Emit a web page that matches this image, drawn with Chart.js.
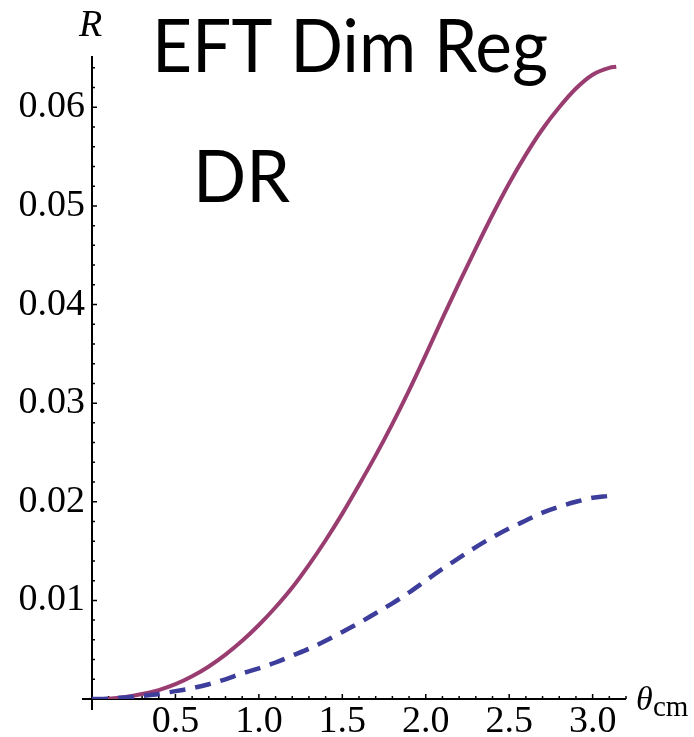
<!DOCTYPE html>
<html>
<head>
<meta charset="utf-8">
<script src="https://cdn.jsdelivr.net/npm/chart.js@4.4.1/dist/chart.umd.min.js"></script>
<style>
  body { margin: 0; background: #fff; }
  #wrap { width: 694px; height: 737px; }
</style>
</head>
<body>
<div id="wrap"><canvas id="myChart" width="694" height="737"></canvas></div>
<script>
// valores (theta em rad, R)
var theta = [0, 0.1, 0.2, 0.3, 0.4, 0.5, 0.6, 0.7, 0.8, 0.9, 1.0, 1.1, 1.2, 1.3, 1.4, 1.5,
  1.6, 1.7, 1.8, 1.9, 2.0, 2.1, 2.2, 2.3, 2.4, 2.5, 2.6, 2.7, 2.8, 2.9, 3.0, 3.1, 3.1416];
var r_solida = [0, 0.00003, 0.0002, 0.0005, 0.0009, 0.0015, 0.0023, 0.0033, 0.0045, 0.0059,
  0.0075, 0.0093, 0.0113, 0.0136, 0.0161, 0.0188, 0.0217, 0.0247, 0.0279, 0.0313, 0.0349,
  0.0386, 0.0422, 0.0457, 0.0491, 0.0523, 0.0552, 0.0578, 0.0600, 0.0619, 0.0633, 0.0640, 0.0641];
var r_tracejada = [0, 0.00004, 0.00015, 0.0003, 0.0005, 0.0008, 0.0011, 0.0015, 0.0020, 0.0026,
  0.0031, 0.0037, 0.0044, 0.0051, 0.0059, 0.0068, 0.0077, 0.0087, 0.0097, 0.0108, 0.0120,
  0.0132, 0.0143, 0.0154, 0.0164, 0.0173, 0.0181, 0.0189, 0.0195, 0.0200, 0.0204, 0.0206, 0.0207];
var ticks_x = [0.5, 1.0, 1.5, 2.0, 2.5, 3.0];
var ticks_y = [0.01, 0.02, 0.03, 0.04, 0.05, 0.06];

function pontos(ys) {
  return theta.map(function (t, i) { return { x: t, y: ys[i] }; });
}

var serif = "'Liberation Serif', 'Times New Roman', serif";

// eixos no estilo Mathematica + textos
var eixos = {
  id: "eixos",
  beforeDatasetsDraw: function (chart) {
    var c = chart.ctx, sx = chart.scales.x, sy = chart.scales.y;
    var x0 = sx.getPixelForValue(0), y0 = sy.getPixelForValue(0);
    c.save();
    c.strokeStyle = "#000";
    c.lineWidth = 2;
    c.beginPath();
    c.moveTo(x0 - 10, y0); c.lineTo(sx.right, y0);
    c.moveTo(x0, sy.top); c.lineTo(x0, y0 + 11);
    c.stroke();
    c.lineWidth = 1.5;
    c.beginPath();
    for (var i = 1; i <= 32; i++) {
      var px = sx.getPixelForValue(i / 10);
      var len = i % 5 === 0 ? 5 : 3;
      c.moveTo(px, y0); c.lineTo(px, y0 - len);
    }
    for (var j = 1; j <= 32; j++) {
      var py = sy.getPixelForValue(j * 0.002);
      if (py < sy.top) break;
      var l2 = j % 5 === 0 ? 5 : 3;
      c.moveTo(x0, py); c.lineTo(x0 + l2, py);
    }
    c.stroke();
    c.restore();
  },
  afterDraw: function (chart) {
    var c = chart.ctx;
    c.save();
    c.fillStyle = "#000";
    c.textBaseline = "alphabetic";
    c.textAlign = "left";
    c.font = "74px Lato, 'Open Sans', sans-serif";
    c.fillText("EFT Dim Reg", 152, 72, 396);
    c.font = "72px Lato, 'Open Sans', sans-serif";
    c.fillText("DR", 193, 202, 97);
    c.font = "italic 38px " + serif;
    c.fillText("R", 79, 36);
    c.font = "italic 34px " + serif;
    c.fillText("\u03b8", 636, 710);
    c.font = "29px " + serif;
    c.fillText("cm", 653, 716);
    c.restore();
  }
};

var ctx = document.getElementById("myChart");
var myChart = new Chart(ctx, {
  type: "line",
  data: {
    datasets: [
      {
        label: "DR",
        data: pontos(r_solida),
        borderColor: "#993d71",
        borderWidth: 4,
        pointRadius: 0,
        cubicInterpolationMode: "monotone",
        fill: false,
        order: 2,
      },
      {
        label: "DR tracejada",
        data: pontos(r_tracejada),
        borderColor: "#3d3d9c",
        borderWidth: 4.5,
        borderDash: [16, 10],
        pointRadius: 0,
        cubicInterpolationMode: "monotone",
        fill: false,
        order: 1,
      },
    ],
  },
  options: {
    responsive: false,
    animation: false,
    layout: { padding: { top: 56, right: 68, left: 0, bottom: 0 } },
    plugins: { legend: { display: false }, tooltip: { enabled: false } },
    scales: {
      x: {
        type: "linear",
        min: 0,
        max: 3.2,
        grid: { display: false, drawTicks: false },
        border: { display: false },
        afterFit: function (s) { s.height = 38; },
        afterBuildTicks: function (s) {
          s.ticks = ticks_x.map(function (v) { return { value: v }; });
        },
        ticks: {
          color: "#000",
          padding: 0,
          maxRotation: 0,
          autoSkip: false,
          font: { family: serif, size: 38 },
          callback: function (v) { return Number(v).toFixed(1); },
        },
      },
      y: {
        type: "linear",
        min: 0,
        max: 0.0652,
        grid: { display: false, drawTicks: false },
        border: { display: false },
        afterFit: function (s) { s.width = 92; },
        afterBuildTicks: function (s) {
          s.ticks = ticks_y.map(function (v) { return { value: v }; });
        },
        ticks: {
          color: "#000",
          padding: 7,
          autoSkip: false,
          font: { family: serif, size: 38 },
          callback: function (v) { return Number(v).toFixed(2); },
        },
      },
    },
  },
  plugins: [eixos],
});
</script>
</body>
</html>
